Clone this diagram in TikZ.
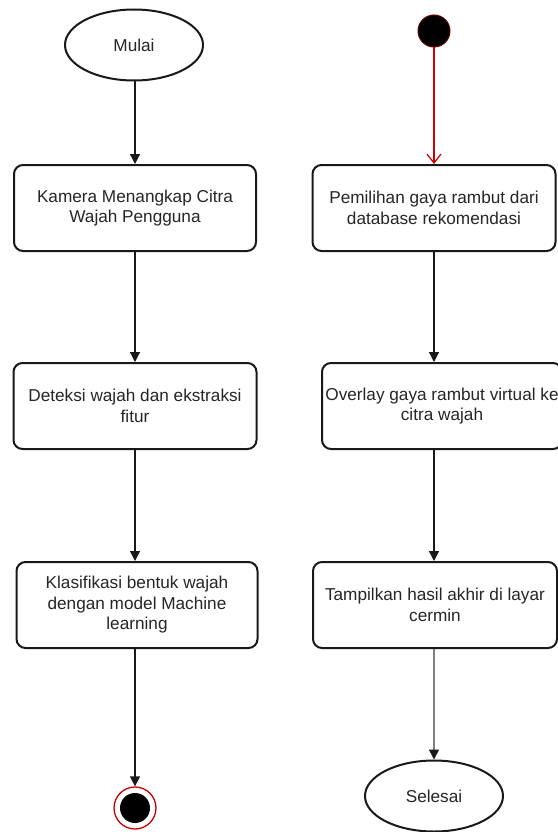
\documentclass[tikz,border=0pt]{standalone}
\usepackage{fontspec}
\setmainfont{Liberation Sans}
\usetikzlibrary{arrows.meta,shapes.geometric}
\begin{document}
\begin{tikzpicture}[x=1pt,y=1pt,
  txt/.style={font=\fontsize{17.2}{20.5}\selectfont, text=black!85, align=center},
  actbox/.style={txt, draw=black!90, line width=2pt, rounded corners=9pt, minimum height=86pt, inner sep=0pt},
  term/.style={txt, ellipse, draw=black!90, line width=2pt, minimum width=138pt, minimum height=71pt, inner sep=0pt},
  flow/.style={draw=black!90, line width=1.3pt, -{Triangle[length=10pt,width=10pt]}},
  grayflow/.style={draw=black!50, line width=1.6pt, -{Triangle[length=10pt,width=10pt,color=black!90]}},
  redflow/.style={draw=red!80!black, line width=1.2pt, -{Straight Barb[length=9pt,width=14pt]}}
]
\useasboundingbox (0,0) rectangle (557,-832);
\fill[white] (0,0) rectangle (557,-832);

% left column
\node[term] (mulai) at (134,-45) {Mulai};
\node[actbox, minimum width=242pt] (l1) at (135,-208) {Kamera Menangkap Citra\\Wajah Pengguna};
\node[actbox, minimum width=243pt] (l2) at (135,-406) {Deteksi wajah dan ekstraksi\\fitur};
\node[actbox, minimum width=241pt] (l3) at (137,-605) {Klasifikasi bentuk wajah\\dengan model Machine\\learning};
\node[circle, draw=red!80!black, line width=1.3pt, fill=white, minimum size=42pt, inner sep=0pt] (fin) at (135,-808) {};
\node[circle, fill=black, minimum size=30pt, inner sep=0pt] (finin) at (fin.center) {};

% right column
\node[circle, fill=black, draw=red!40!black, line width=1pt, minimum size=32pt, inner sep=0pt] (start) at (434,-31) {};
\node[actbox, minimum width=243pt] (r1) at (434,-208) {Pemilihan gaya rambut dari\\database rekomendasi};
\node[actbox, minimum width=240pt] (r2) at (442,-406) {Overlay gaya rambut virtual ke\\citra wajah};
\node[actbox, minimum width=244pt] (r3) at (435,-605) {Tampilkan hasil akhir di layar\\cermin};
\node[term] (selesai) at (434,-796) {Selesai};

% connectors
\draw[flow] (mulai.south -| l1.north) -- (l1.north);
\draw[flow] (l1.south) -- (l2.north);
\draw[flow] (l2.south) -- (l2.south |- l3.north);
\draw[flow] (l2.south |- l3.south) -- (l2.south |- fin.north);
\draw[redflow] (start.south) -- (r1.north);
\draw[flow] (r1.south) -- (r1.south |- r2.north);
\draw[flow] (r1.south |- r2.south) -- (r1.south |- r3.north);
\draw[grayflow] (r1.south |- r3.south) -- (selesai.north);
\end{tikzpicture}
\end{document}
